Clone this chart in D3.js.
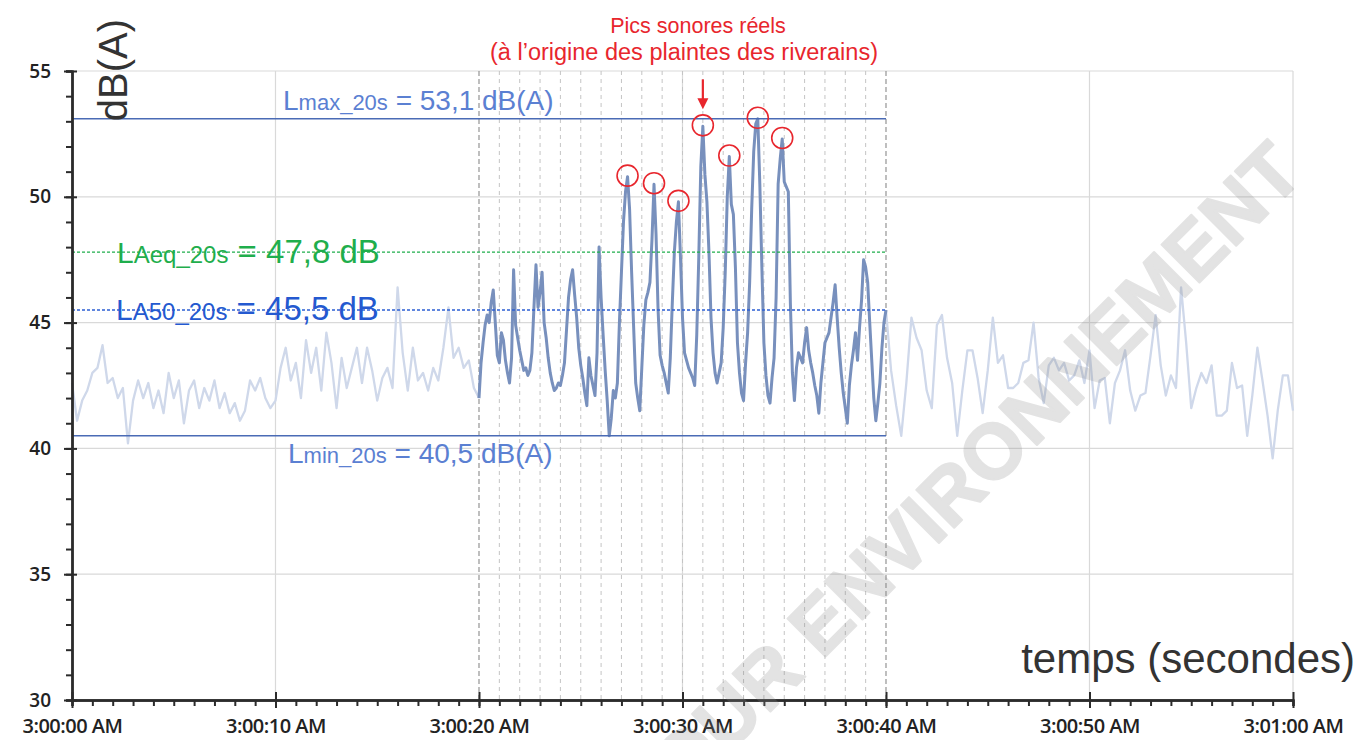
<!DOCTYPE html>
<html>
<head>
<meta charset="utf-8">
<script src="https://cdn.jsdelivr.net/npm/d3@7"></script>
<style>
  html, body { margin: 0; padding: 0; background: #fff; }
  svg { display: block; }
</style>
</head>
<body>
<svg id="chart" width="1358" height="740"></svg>
<script>
// ---- Sound level record, dB(A) ----
// 3:00:00 – 3:00:20, one sample every 0.25 s
const stepBefore = 0.25;
const levelsBefore = [
  42.6, 41.1, 41.9, 42.3, 43.0, 43.2, 44.1, 42.6, 42.8, 42.0,
  42.4, 40.2, 41.9, 42.7, 42.0, 42.6, 41.6, 42.3, 41.4, 43.0,
  42.0, 42.7, 41.0, 42.3, 42.7, 41.6, 42.4, 41.9, 42.7, 41.6,
  42.2, 41.4, 41.8, 41.1, 41.5, 42.7, 42.3, 42.8, 42.0, 41.6,
  41.9, 43.2, 44.0, 42.7, 43.4, 42.0, 44.3, 43.0, 44.0, 42.3,
  44.6, 43.4, 41.6, 43.6, 42.4, 43.2, 44.0, 42.6, 44.0, 43.1,
  41.9, 42.8, 43.2, 42.4, 46.4, 43.8, 42.3, 44.0, 42.7, 43.0,
  42.3, 43.2, 42.7, 44.0, 45.6, 43.6, 44.0, 43.2, 43.5, 42.4,
  42.0
];

// 3:00:20 – 3:00:40 (analysed 20 s window), one sample every 0.1 s
const windowStart = 20;
const windowEnd = 40;
const stepWindow = 0.1;
const levelsWindow = [
  42.0, 43.4, 44.2, 44.9, 45.3, 45.0, 45.8, 46.3, 45.0, 43.7,
  43.4, 44.6, 44.3, 43.5, 43.0, 42.6, 43.6, 47.1, 44.9, 44.4,
  43.9, 43.5, 43.1, 43.2, 42.9, 43.1, 43.8, 45.6, 47.3, 45.6,
  46.2, 47.0, 45.0, 44.4, 43.6, 43.0, 42.6, 42.3, 42.4, 42.6,
  42.5, 42.9, 43.4, 44.7, 46.0, 46.7, 47.1, 46.1, 45.2, 44.0,
  43.3, 42.8, 42.2, 41.7, 43.6, 42.9, 42.5, 42.1, 43.8, 48.0,
  46.0, 44.5, 43.1, 41.9, 40.5, 41.2, 42.3, 42.0, 42.6, 45.0,
  47.0, 49.0, 50.2, 50.8, 49.5, 47.0, 44.8, 42.6, 42.0, 41.5,
  43.2, 44.9, 45.9, 46.2, 46.6, 48.3, 50.5, 48.5, 45.5, 43.7,
  43.3, 43.0, 42.6, 42.2, 43.6, 45.8, 47.8, 49.0, 49.8, 47.6,
  45.2, 43.8, 43.5, 43.2, 43.0, 42.8, 42.5, 44.5, 47.6, 51.2,
  52.8, 50.9, 49.8, 47.8, 45.2, 43.8, 43.0, 42.6, 43.0, 43.4,
  44.8, 47.0, 50.0, 51.6, 49.7, 49.3, 47.2, 44.2, 43.0, 42.2,
  41.9, 43.4, 44.6, 46.6, 49.5, 51.8, 52.9, 53.1, 50.5, 47.2,
  44.2, 42.9, 42.1, 41.8, 42.8, 43.6, 46.0, 50.5, 51.5, 52.3,
  50.6, 50.4, 50.2, 45.8, 43.0, 41.9, 43.2, 43.8, 43.6, 43.4,
  44.2, 44.8, 43.9, 43.4, 43.0, 42.5, 42.1, 41.4, 42.6, 43.4,
  44.2, 44.4, 44.6, 45.2, 45.8, 46.5, 45.2, 44.0, 43.0, 42.2,
  41.6, 41.0, 42.5, 43.3, 43.9, 44.6, 43.5, 44.8, 45.9, 47.5,
  47.2, 46.6, 45.0, 43.5, 42.0, 41.1, 41.8, 42.6, 44.0, 45.0,
  45.5
];

// 3:00:40 – 3:01:00, one sample every 0.25 s
const stepAfter = 0.25;
const levelsAfter = [
  45.5, 43.1, 41.7, 40.5, 42.6, 45.2, 44.4, 43.9, 42.3, 41.6,
  44.9, 45.3, 43.6, 42.6, 40.5, 42.3, 43.9, 43.9, 42.8, 41.4,
  43.1, 45.2, 43.4, 43.7, 42.4, 42.4, 42.6, 43.4, 43.5, 45.0,
  42.8, 41.8, 43.3, 43.6, 43.1, 43.4, 42.7, 42.9, 43.5, 42.6,
  43.9, 41.6, 42.7, 42.8, 41.0, 42.6, 43.1, 43.9, 42.3, 41.5,
  42.1, 42.2, 43.7, 45.3, 43.3, 42.1, 42.9, 42.4, 46.4, 44.2,
  41.6, 42.4, 43.0, 42.6, 43.3, 41.3, 41.3, 41.5, 43.4, 42.4,
  42.5, 40.5, 42.1, 44.0, 42.7, 41.3, 39.6, 41.5, 42.9, 42.9,
  41.5
];

// Axis ticks
const yTickValues = [30, 35, 40, 45, 50, 55];
const xTickSeconds = [0, 10, 20, 30, 40, 50, 60];
const xTickLabels = ["3:00:00 AM", "3:00:10 AM", "3:00:20 AM", "3:00:30 AM",
                     "3:00:40 AM", "3:00:50 AM", "3:01:00 AM"];

// Indicators computed over the 20 s window
const indicatorPrefix = ["L", "L", "L", "L"];
const indicatorSub = ["max_20s", "min_20s", "Aeq_20s", "A50_20s"];
const indicatorValues = [53.1, 40.5, 47.8, 45.5];
const indicatorUnits = ["dB(A)", "dB(A)", "dB", "dB"];

// Real noise peaks (seconds after 3:00:00)
const peakTimes = [27.3, 28.6, 29.8, 31.0, 32.3, 33.7, 34.9];
const arrowPeakTime = 31.0;

// ---- Build samples ----
const toSamples = (levels, t0, step) =>
  levels.map((v, i) => ({ t: +(t0 + i * step).toFixed(3), v }));
const before = toSamples(levelsBefore, 0, stepBefore);
const windowed = toSamples(levelsWindow, windowStart, stepWindow);
const after = toSamples(levelsAfter, windowEnd, stepAfter);

// ---- Scales ----
const svg = d3.select("#chart");
const x = d3.scaleLinear().domain([0, 60]).range([72, 1293]);
const y = d3.scaleLinear().domain([30, 55]).range([700, 71]);

const fmt = v => d3.format(".1f")(v).replace(".", ",");

// ---- Grid ----
const grid = svg.append("g");
grid.selectAll("line.h").data(yTickValues.filter(v => v > 30)).join("line")
  .attr("x1", x(0)).attr("x2", x(60))
  .attr("y1", d => y(d)).attr("y2", d => y(d))
  .attr("stroke", "#d9d9d9").attr("stroke-width", 1.2);
grid.selectAll("line.v").data(xTickSeconds.filter(s => s > 0 && s !== windowStart && s !== windowEnd)).join("line")
  .attr("x1", d => x(d)).attr("x2", d => x(d))
  .attr("y1", y(55)).attr("y2", y(30))
  .attr("stroke", "#d9d9d9").attr("stroke-width", 1.2);

// one-second markers inside the analysed window
const seconds = d3.range(windowStart + 1, windowEnd);
grid.selectAll("line.s").data(seconds).join("line")
  .attr("x1", d => x(d)).attr("x2", d => x(d))
  .attr("y1", y(55)).attr("y2", y(30))
  .attr("stroke", "#c4c4c4").attr("stroke-width", 1)
  .attr("stroke-dasharray", "4,4");
grid.selectAll("line.w").data([windowStart, windowEnd]).join("line")
  .attr("x1", d => x(d)).attr("x2", d => x(d))
  .attr("y1", y(55)).attr("y2", y(30))
  .attr("stroke", "#8a8a8a").attr("stroke-width", 1.1)
  .attr("stroke-dasharray", "5,3");

// ---- Series ----
const line = d3.line().x(d => x(d.t)).y(d => y(d.v));
svg.append("path").datum(before).attr("d", line)
  .attr("fill", "none").attr("stroke", "#cfd8ea").attr("stroke-width", 2.3)
  .attr("stroke-linejoin", "round");
svg.append("path").datum(after).attr("d", line)
  .attr("fill", "none").attr("stroke", "#cfd8ea").attr("stroke-width", 2.3)
  .attr("stroke-linejoin", "round");
svg.append("path").datum(windowed).attr("d", line)
  .attr("fill", "none").attr("stroke", "#7890bd").attr("stroke-width", 3)
  .attr("stroke-linejoin", "round");

// ---- Indicator lines ----
const indicatorColors = ["#4a6bb5", "#4a6bb5", "#1fae4c", "#2c5fd4"];
const labelColors = ["#5b80d2", "#5b80d2", "#1fae4c", "#2459d0"];
const indicatorDash = [null, null, "3,2", "3,2"];
const indicatorWidth = [1.6, 1.6, 1.4, 1.4];
indicatorValues.forEach((v, i) => {
  svg.append("line")
    .attr("x1", x(0)).attr("x2", x(windowEnd))
    .attr("y1", y(v)).attr("y2", y(v))
    .attr("stroke", indicatorColors[i]).attr("stroke-width", indicatorWidth[i])
    .attr("stroke-dasharray", indicatorDash[i]);
});

// Indicator labels
const labelPos = [
  { x: 283, dy: -9, big: 28, sub: 22, tail: 28 },
  { x: 288, dy: 27, big: 28, sub: 22, tail: 28 },
  { x: 117, dy: 11, big: 30, sub: 24, tail: 33 },
  { x: 116, dy: 10, big: 30, sub: 24, tail: 33 }
];
indicatorValues.forEach((v, i) => {
  const p = labelPos[i];
  const t = svg.append("text")
    .attr("x", p.x).attr("y", y(v) + p.dy)
    .attr("font-family", "'Liberation Sans', Arial, sans-serif")
    .attr("fill", labelColors[i]);
  t.append("tspan").attr("font-size", p.big).text(indicatorPrefix[i]);
  t.append("tspan").attr("font-size", p.sub).text(indicatorSub[i]);
  t.append("tspan").attr("font-size", p.tail)
    .text(" = " + fmt(v) + " " + indicatorUnits[i]);
});

// ---- Axes ----
const axisColor = "#2b2b2b";
const yMinor = svg.append("g").attr("transform", `translate(${x(0)},0)`)
  .call(d3.axisLeft(y).tickValues(d3.range(30, 56)).tickSize(6).tickFormat(""));
const yMajor = svg.append("g").attr("transform", `translate(${x(0)},0)`)
  .call(d3.axisLeft(y).tickValues(yTickValues).tickSizeInner(8).tickSizeOuter(0).tickPadding(14));
yMajor.selectAll(".tick line").attr("x2", -8).attr("x1", 5);
const xMinor = svg.append("g").attr("transform", `translate(0,${y(30)})`)
  .call(d3.axisBottom(x).tickValues(d3.range(0, 61)).tickSize(6).tickFormat(""));
const xMajor = svg.append("g").attr("transform", `translate(0,${y(30)})`)
  .call(d3.axisBottom(x).tickValues(xTickSeconds).tickSizeInner(8).tickSizeOuter(0)
        .tickPadding(11).tickFormat((d, i) => xTickLabels[i]));
xMajor.selectAll(".tick line").attr("y1", -8).attr("y2", 8);

[yMinor, yMajor, xMinor, xMajor].forEach(g => {
  g.selectAll("path.domain").attr("stroke", axisColor).attr("stroke-width", 2.4);
  g.selectAll(".tick line").attr("stroke", axisColor).attr("stroke-width", 2);
});
yMajor.selectAll(".tick text")
  .attr("font-family", "'Open Sans', sans-serif").attr("font-weight", 600)
  .attr("font-size", 19).attr("fill", "#222").attr("x", -21);
xMajor.selectAll(".tick text")
  .attr("font-family", "'Open Sans', sans-serif").attr("font-weight", 600)
  .attr("font-size", 20).attr("letter-spacing", "-0.5px").attr("fill", "#222");

// Axis titles
svg.append("text")
  .attr("transform", "translate(127,70) rotate(-90)")
  .attr("text-anchor", "middle")
  .attr("font-family", "'Liberation Sans', Arial, sans-serif")
  .attr("font-size", 40).attr("fill", "#333")
  .text("dB(A)");
svg.append("text")
  .attr("x", 1355).attr("y", 673).attr("text-anchor", "end")
  .attr("font-family", "'Liberation Sans', Arial, sans-serif")
  .attr("font-size", 42).attr("fill", "#333")
  .text("temps (secondes)");

// ---- Peak annotations ----
const peakSamples = peakTimes.map(t =>
  windowed.find(d => Math.abs(d.t - t) < 1e-6));
svg.selectAll("circle.peak").data(peakSamples).join("circle")
  .attr("cx", d => x(d.t)).attr("cy", d => y(d.v) - 1)
  .attr("r", 10.5)
  .attr("fill", "none").attr("stroke", "#e8262d").attr("stroke-width", 1.6);

const arrowSample = windowed.find(d => Math.abs(d.t - arrowPeakTime) < 1e-6);
const ax = x(arrowSample.t), tipY = y(arrowSample.v) - 17;
svg.append("line")
  .attr("x1", ax).attr("x2", ax).attr("y1", tipY - 30).attr("y2", tipY - 8)
  .attr("stroke", "#e8262d").attr("stroke-width", 2.2);
svg.append("path")
  .attr("d", `M${ax - 5.5},${tipY - 11} L${ax + 5.5},${tipY - 11} L${ax},${tipY} Z`)
  .attr("fill", "#e8262d");

svg.append("text")
  .attr("x", 698).attr("y", 33).attr("text-anchor", "middle")
  .attr("font-family", "'Liberation Sans', Arial, sans-serif")
  .attr("font-size", 21.5).attr("fill", "#e8262d")
  .text("Pics sonores réels");
svg.append("text")
  .attr("x", 684).attr("y", 60).attr("text-anchor", "middle")
  .attr("font-family", "'Liberation Sans', Arial, sans-serif")
  .attr("font-size", 23.5).attr("fill", "#e8262d")
  .text("(à l’origine des plaintes des riverains)");

// ---- Watermark ----
svg.append("text")
  .attr("transform", "translate(1306,176) rotate(-45)")
  .attr("text-anchor", "end")
  .attr("font-family", "'Liberation Sans', Arial, sans-serif")
  .attr("font-weight", 700).attr("font-size", 78)
  .attr("fill", "#8c8c8c").attr("stroke", "#8c8c8c").attr("stroke-width", 2)
  .attr("stroke-linejoin", "round")
  .attr("opacity", 0.24)
  .text("POUR ENVIRONNEMENT");
</script>
</body>
</html>
